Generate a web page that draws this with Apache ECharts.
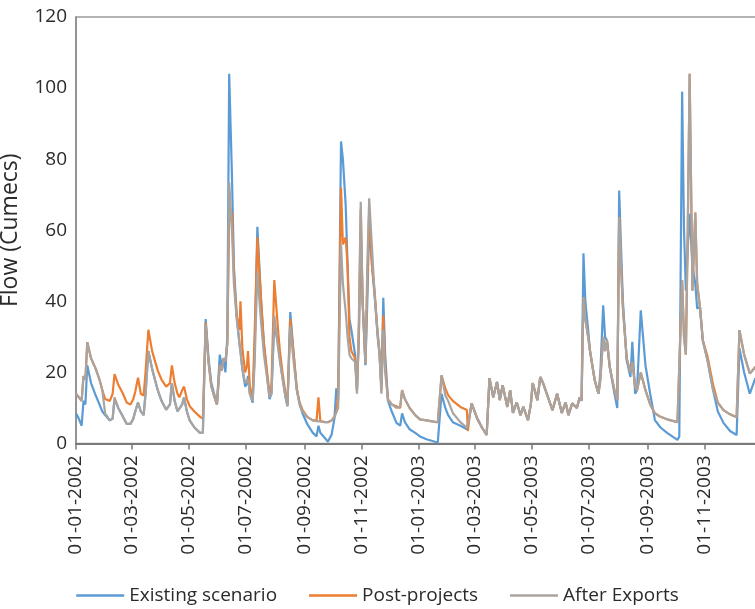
<!DOCTYPE html>
<html>
<head>
<meta charset="utf-8">
<script src="https://cdn.jsdelivr.net/npm/echarts@6/dist/echarts.min.js"></script>
<style>
  html, body { margin: 0; padding: 0; background: #fff; }
  #chart { width: 755px; height: 609px; }
</style>
</head>
<body>
<div id="chart"></div>
<script>
// Days since 01-01-2002 for each sampled point
const dayOffsets = [
  0,3,6,8,10,12,16,21,25,28,31,36,39,41,45,50,54,58,61,63,66,69,72,74,77,81,87,91,96,100,
  102,105,108,110,113,115,118,121,126,132,135,138,141,144,148,150,153,155,157,159,161,163,166,168,171,174,175,177,180,182,
  183,185,188,190,193,197,200,203,206,208,211,215,217,220,223,225,228,232,235,238,241,246,252,256,258,260,265,268,272,275,
  277,279,282,284,287,289,291,293,297,299,301,303,305,308,310,312,315,318,321,323,325,327,329,332,336,341,345,347,350,355,
  361,366,373,382,385,389,393,396,401,409,416,417,419,421,427,432,437,
  440,444,448,451,454,459,462,465,469,473,476,481,484,486,491,494,497,501,507,512,517,521,524,528,533,536,538,
  540,542,545,547,552,556,558,561,563,565,568,573,576,578,580,582,586,590,592,595,597,601,606,611,616,622,629,640,642,
  645,647,649,651,653,656,659,661,664,667,672,678,683,689,696,703,706,711,717,723,728
];

const existingScenario = [
  8.5,7,5,12,11,22,17,13.5,11,9,8,6.5,7,12.5,10,7.5,5.5,5.5,7,9,11.5,9,8,14,26,21,15,12,9.5,11,
  17,12,9,8.5,11,13,9,6.5,4.5,3,3,35,24,17,13,11,25,22,23,20,30,104,75,50,36,28,26,21,16,17,
  19,14,11.5,25,61,40,28,20,12.5,14,34,28,24,18,13,10.5,37,24,15,11,8.5,5.5,3,2,5,3,1.5,0.5,2.5,7,
  15.5,12,85,80,67,50,35,32,25,15,30,60,40,22,40,62,50,41,30,25,16,41,25,12,9,5.8,5,8.5,6,4,
  3,2,1.2,0.5,0.3,14,10,8,6,5,4,3.5,8,11.3,7,4.5,2.4,
  18.4,13,17.3,12.2,16.4,10.3,15,8.6,11.6,8,10.3,6.6,11,17,12.2,18.7,17,14,9.4,14,8.6,11.6,8,11.3,10,13,12,
  53.5,40,32,26,17.8,14,20,38.9,30,29,21.5,14,10,71.2,55,40,23.4,18.7,28.6,14,15,37.5,22,14,6.6,4.5,3,1,2,
  99,60,43,55,64.6,50,45,38,38.4,29,23.4,15,9,5.8,3.5,2.4,26.8,20,14,18.4,17
];

const postProjects = [
  14,13,12,19,18,28.5,24,21,18,15,12.5,12,14,19.5,16.5,14,11.5,11,12.5,14.5,18.5,14,13.5,20,32,26,20.5,18,16,17,
  22,17,14,13,15,16,12.5,10.5,9,7.5,7,34,23,16,12.5,11,22,20.5,24,23,28,62,65,48,36,32,40,27,20,22,
  26,16,13,30,58,40,28,21,14,16,46,32,26,19.5,14,11,35,24,15.5,11.5,9.5,7.5,6.5,6.5,13,6.3,6,6,6.5,7.5,
  9,14,72,56,58,50,30,26,24,15,30,66,40,22.5,45,66,50,42,31,26,15,36,22,12.5,11,10.5,10,15,12.5,10,
  8,6.8,6.5,6.1,6,19.2,15.5,13.6,12,10.3,9.4,3.5,8,11.3,7,4.5,2.4,
  18.4,13,17.3,12.2,16.4,10.3,15,8.6,11.6,8,10.3,6.6,11,17,12.2,18.7,17,14,9.4,14,8.6,11.6,8,11.3,10,13,12,
  41.2,35,30,26,17.8,14,18,30,26,29,21.5,15,12.2,63.7,50,38,24,20,23,16,15,20,15,11,8.5,7.5,6.8,6,6.5,
  46,30,25,60,104,43,65,45,38.4,29,24.5,16.5,11.5,9.4,8.2,7.4,31.9,25,19.7,21.5,20
];

const afterExports = [
  14,13,12,19,18,28.5,24,21,18,15,8.5,6.5,7,13,10,7.5,5.5,5.5,7,9,11.5,9,8,14,26,21,15,12,9.5,11,
  17,12,9,8.5,11,13,9,6.5,4.5,3,3,33.5,23,16,12.5,11,22,20.5,24,23,28,73.5,60,45,35,28,26,21,17,17,
  18,14,12,22,48,34,25,19,13,14,36,27,23,18,13,10.5,33,22,15,11,9,7.5,6.5,6.3,6.3,6.2,6,6,6.5,7.5,
  7.5,10,56,45,37,30,25,24,23,14,35,68,40,22.6,50,69,55,41,31,25,14,32,20,12.2,11,10,10.5,15,12.5,10,
  8,6.8,6.5,6.1,6,19.2,13.5,12,8.6,6,4.4,4.2,8,11.3,7,4.5,2.4,
  18.4,13,17.3,12.2,16.4,10.3,15,8.6,11.6,8,10.3,6.6,11,17,12.2,18.7,17,14,9.4,14,8.6,11.6,8,11.3,10,13,12,
  41.2,35,30,26,17.8,14,18,30,26,29,21.5,15,12.2,63.7,50,38,24,20,23,16,15,20,15,11,8.5,7.5,6.8,6,6.5,
  46,30,25,60,104,43,65,45,38.4,29,23.4,15,11.5,9.4,8.2,7.4,31.9,25,19.7,21.5,20
];

const tickLabels = [
  '01-01-2002','01-03-2002','01-05-2002','01-07-2002','01-09-2002','01-11-2002',
  '01-01-2003','01-03-2003','01-05-2003','01-07-2003','01-09-2003','01-11-2003'
];

const seriesNames = ['Existing scenario', 'Post-projects', 'After Exports'];

const DAY_MS = 86400000;
const START = Date.UTC(2002, 0, 1);
function labelToDay(s) {
  const p = s.split('-').map(Number);
  return Math.round((Date.UTC(p[2], p[1] - 1, p[0]) - START) / DAY_MS);
}
function dayToLabel(d) {
  const dt = new Date(START + Math.round(d) * DAY_MS);
  const pad = n => (n < 10 ? '0' : '') + n;
  return pad(dt.getUTCDate()) + '-' + pad(dt.getUTCMonth() + 1) + '-' + dt.getUTCFullYear();
}
const tickDays = tickLabels.map(labelToDay);
const endDay = labelToDay('01-01-2004');
function pairs(vals) { return dayOffsets.map((d, i) => [d, vals[i]]); }

const FONT = 'Open Sans';
const chart = echarts.init(document.getElementById('chart'), null, { renderer: 'canvas' });
chart.setOption({
  animation: false,
  backgroundColor: '#fff',
  color: ['#5B9BD5', '#ED7D31', '#A9A4A0'],
  grid: {
    left: 76, top: 17, right: -7, bottom: 165.5,
    containLabel: false, outerBoundsMode: 'none',
    show: true, borderColor: '#9a9a9a', borderWidth: 1.5
  },
  legend: {
    data: seriesNames,
    top: 581,
    left: 'center',
    icon: 'rect',
    itemWidth: 48,
    itemHeight: 2.5,
    itemGap: 32,
    textStyle: { fontFamily: FONT, fontSize: 19, color: '#2b2b2b' }
  },
  xAxis: {
    type: 'value',
    min: 0,
    max: endDay,
    axisLine: { show: true, onZero: false, lineStyle: { color: '#7a7a7a', width: 2 } },
    axisTick: { show: true, customValues: tickDays, length: 6, lineStyle: { color: '#7a7a7a', width: 1.5 } },
    axisLabel: {
      customValues: tickDays,
      formatter: dayToLabel,
      rotate: 90,
      margin: 12,
      fontFamily: FONT,
      fontSize: 19,
      color: '#2b2b2b'
    },
    splitLine: { show: false }
  },
  yAxis: {
    type: 'value',
    min: 0,
    max: 120,
    interval: 20,
    name: 'Flow (Cumecs)',
    nameLocation: 'middle',
    nameGap: 54,
    nameTextStyle: { fontFamily: FONT, fontSize: 23, color: '#2b2b2b' },
    axisLine: { show: true, lineStyle: { color: '#8a8a8a', width: 1.5 } },
    axisTick: { show: false },
    axisLabel: { fontFamily: FONT, fontSize: 19, color: '#2b2b2b', margin: 9 },
    splitLine: { show: false }
  },
  series: [
    { name: seriesNames[0], type: 'line', data: pairs(existingScenario), showSymbol: false, symbol: 'none', lineStyle: { width: 2.2 }, emphasis: { disabled: true } },
    { name: seriesNames[1], type: 'line', data: pairs(postProjects), showSymbol: false, symbol: 'none', lineStyle: { width: 2.2 }, emphasis: { disabled: true } },
    { name: seriesNames[2], type: 'line', data: pairs(afterExports), showSymbol: false, symbol: 'none', lineStyle: { width: 2.2 }, emphasis: { disabled: true } }
  ]
});
</script>
</body>
</html>
